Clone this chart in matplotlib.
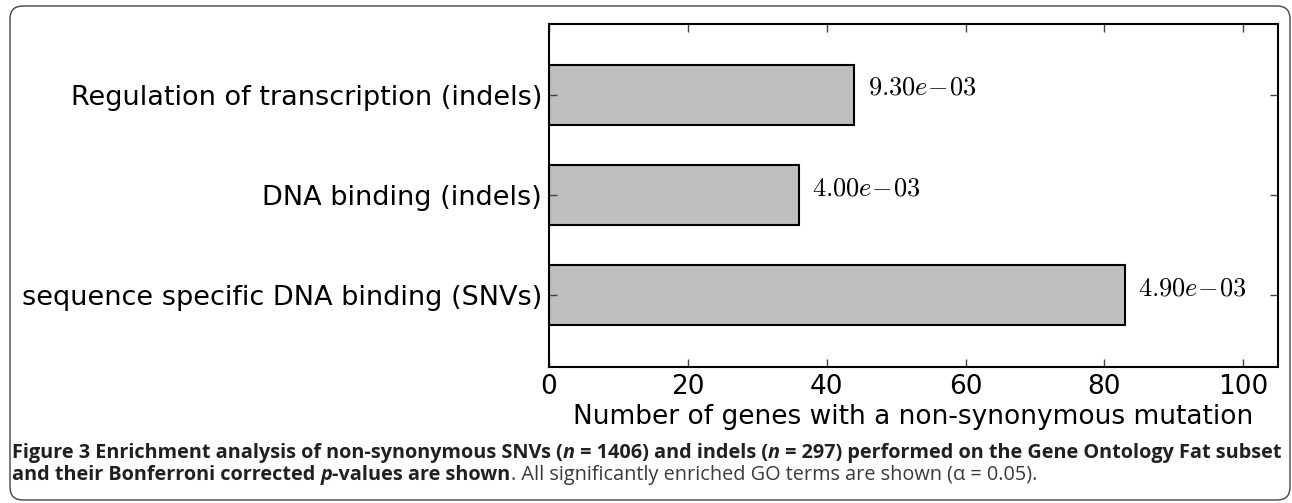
import matplotlib
matplotlib.use("Agg")
import matplotlib.pyplot as plt
from matplotlib.patches import FancyBboxPatch
from matplotlib import font_manager

# data
terms = ["sequence specific DNA binding (SNVs)", "DNA binding (indels)",
         "Regulation of transcription (indels)"]
genes = [83, 36, 44]
pvals = ["4.90e-03", "4.00e-03", "9.30e-03"]
xticks = [0, 20, 40, 60, 80, 100]

plt.rcParams["mathtext.fontset"] = "cm"

fig = plt.figure(figsize=(12.92, 5.03), dpi=100)
ax = fig.add_axes([549 / 1292, 1 - 367 / 503, (1278 - 549) / 1292, (367 - 24) / 503])

ypos = list(range(len(terms)))
ax.barh(ypos, genes, height=0.6, color="#bfbfbf", edgecolor="black", linewidth=1.5)
for y, g, p in zip(ypos, genes, pvals):
    a, b = p.split("e")
    ax.text(g + 1.9, y, r"$%se\!-\!%s$" % (a, b.lstrip("-")), va="baseline", ha="left",
            fontsize=19)

ax.set_xlim(0, 105)
ax.set_ylim(-0.72, 2.71)
ax.set_xticks(xticks)
ax.set_yticks(ypos)
ax.set_yticklabels(terms)
ax.tick_params(direction="in", top=True, right=True, length=6, width=1,
               color="#444444", pad=5)
ax.tick_params(axis="x", labelsize=19)
ax.tick_params(axis="y", labelsize=19.5)
for s in ax.spines.values():
    s.set_linewidth(1.5)
ax.set_xlabel("Number of genes with a non-synonymous mutation", fontsize=19, labelpad=3)

# rounded frame around figure
frame = FancyBboxPatch((10 / 1292, 3 / 503), 1280 / 1292, 494 / 503,
                       boxstyle="round,pad=0,rounding_size=0.01",
                       transform=fig.transFigure, fill=False, edgecolor="#444444",
                       linewidth=1.0, mutation_aspect=1292 / 503)
fig.patches.append(frame)

# caption, drawn piece by piece
names = {f.name for f in font_manager.fontManager.ttflist}
cfont = "Liberation Sans Narrow" if "Liberation Sans Narrow" in names else "Open Sans"
line1 = [("Figure 3 Enrichment analysis of non-synonymous SNVs (", "bold", "normal"),
         ("n", "bold", "italic"),
         (" = 1406) and indels (", "bold", "normal"),
         ("n", "bold", "italic"),
         (" = 297) performed on the Gene Ontology Fat subset", "bold", "normal")]
line2 = [("and their Bonferroni corrected ", "bold", "normal"),
         ("p", "bold", "italic"),
         ("-values are shown", "bold", "normal"),
         (". All significantly enriched GO terms are shown (\u03b1 = 0.05).", "normal", "normal")]

renderer = fig.canvas.get_renderer()


def draw_line(parts, y, size):
    x = 12
    for txt, w, st in parts:
        col = "#231f20" if w == "bold" else "#3a3a3a"
        t = fig.text(x / 1292, y, txt, fontsize=size, fontweight=w, fontstyle=st,
                     family=[cfont, "DejaVu Sans"], color=col, va="baseline")
        x += t.get_window_extent(renderer).width
    return x


# fit first line to the frame width
size = 11
end = draw_line(line1, -1, size)
for t in list(fig.texts):
    t.remove()
size = size * (1281 - 12) / (end - 12)
draw_line(line1, 1 - 458 / 503, size)
draw_line(line2, 1 - 480 / 503, size)

fig.savefig("out.png", dpi=100)
